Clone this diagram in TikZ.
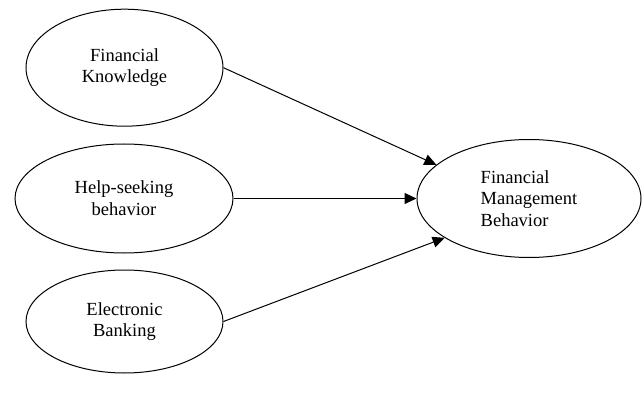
\documentclass[tikz,border=0pt]{standalone}
\usepackage{fontspec}
\setmainfont{Liberation Serif}
\usetikzlibrary{shapes.geometric,arrows.meta}
\begin{document}
\begin{tikzpicture}[x=1pt,y=-1pt,
  oval/.style={draw,ellipse,line width=1pt,inner sep=0pt,align=center,
    font=\fontsize{18.5}{21.7}\selectfont},
  link/.style={line width=1pt,-{Triangle[length=12pt,width=11pt]}}]
\useasboundingbox (0,0) rectangle (642,398);
\node[oval,minimum width=197pt,minimum height=117pt] (fk) at (124.5,67.7) {Financial\\Knowledge};
\node[oval,minimum width=218pt,minimum height=109pt] (hs) at (124,198.5) {Help-seeking\\behavior};
\node[oval,minimum width=197pt,minimum height=103pt] (eb) at (124.5,321.5) {Electronic\\Banking};
\node[oval,align=left,minimum width=224pt,minimum height=118pt] (fmb) at (529,198.5) {Financial\\Management\\Behavior};
\draw[link] (fk.east) -- (fmb.160);
\draw[link] (hs.east) -- (fmb.west);
\draw[link] (eb.east) -- (fmb.205);
\end{tikzpicture}
\end{document}
